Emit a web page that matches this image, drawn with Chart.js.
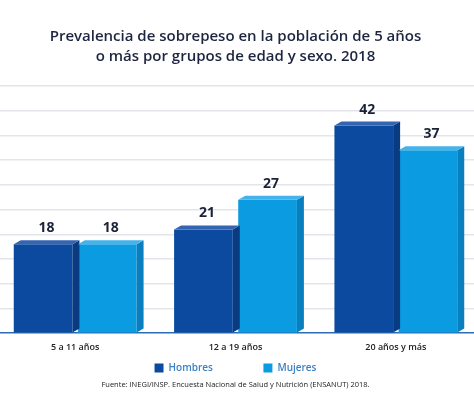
<!DOCTYPE html>
<html>
<head>
<meta charset="utf-8">
<script src="https://cdn.jsdelivr.net/npm/chart.js@4/dist/chart.umd.min.js"></script>
<style>
  html, body { margin: 0; padding: 0; background: #fff; overflow: hidden; }
  /* el área del gráfico sobresale un poco por ambos lados, como en el original */
  #wrap { width: 481px; height: 402px; position: relative; margin-left: -5px; }
</style>
</head>
<body>
<div id="wrap"><canvas id="barChart"></canvas></div>
<script>
// datos
var grupos = ['5 a 11 años', '12 a 19 años', '20 años y más'];
var hombres = [18, 21, 42];
var mujeres = [18, 27, 37];
var ejeY = [0, 50, 5]; // min, max, paso

var titulo = ['Prevalencia de sobrepeso en la población de 5 años', 'o más por grupos de edad y sexo. 2018'];
var fuente = 'Fuente: INEGI/INSP. Encuesta Nacional de Salud y Nutrición (ENSANUT) 2018.';

var FONT = "'Open Sans', 'Noto Sans', sans-serif";

// caras laterales y superior para el efecto 3D
var caras = [
    { lado: '#083b80', tapa: '#3565b0' },
    { lado: '#0a7fc0', tapa: '#45b3ea' }
];

var barras3d = {
    id: 'barras3d',
    afterDatasetsDraw: function (chart) {
        var ctx = chart.ctx;
        var dx = 7, dy = 4;
        chart.data.datasets.forEach(function (ds, i) {
            var meta = chart.getDatasetMeta(i);
            meta.data.forEach(function (bar, j) {
                var p = bar.getProps(['x', 'y', 'base', 'width'], true);
                var left = p.x - p.width / 2, right = p.x + p.width / 2;
                ctx.save();
                // lateral
                ctx.fillStyle = caras[i].lado;
                ctx.beginPath();
                ctx.moveTo(right, p.y);
                ctx.lineTo(right + dx, p.y - dy);
                ctx.lineTo(right + dx, p.base - dy);
                ctx.lineTo(right, p.base);
                ctx.closePath();
                ctx.fill();
                // tapa
                ctx.fillStyle = caras[i].tapa;
                ctx.beginPath();
                ctx.moveTo(left, p.y);
                ctx.lineTo(left + dx, p.y - dy);
                ctx.lineTo(right + dx, p.y - dy);
                ctx.lineTo(right, p.y);
                ctx.closePath();
                ctx.fill();
                // valor
                ctx.fillStyle = '#1b2238';
                ctx.font = 'bold 14px ' + FONT;
                ctx.textAlign = 'center';
                ctx.textBaseline = 'middle';
                ctx.fillText(ds.data[j], p.x + dx / 2, p.y - 16);
                ctx.restore();
            });
        });
    }
};

var ctx = document.getElementById('barChart').getContext('2d');
var myChart = new Chart(ctx, {
    type: 'bar',
    data: {
        labels: grupos,
        datasets: [{
            label: 'Hombres',
            data: hombres,
            backgroundColor: '#0b4a9e',
            borderWidth: 0
        }, {
            label: 'Mujeres',
            data: mujeres,
            backgroundColor: '#0b9be0',
            borderWidth: 0
        }]
    },
    options: {
        responsive: true,
        maintainAspectRatio: false,
        animation: false,
        layout: { padding: 0 },
        categoryPercentage: 0.8,
        barPercentage: 0.915,
        plugins: {
            title: {
                display: true,
                text: titulo,
                color: '#1d2540',
                font: { family: FONT, size: 15, weight: '600', lineHeight: 1.3 },
                padding: { top: 27, bottom: 20 }
            },
            legend: {
                position: 'bottom',
                labels: {
                    boxWidth: 9,
                    boxHeight: 9,
                    padding: 9,
                    color: '#3b80c2',
                    font: { family: FONT, size: 10, weight: '600' },
                    generateLabels: function (chart) {
                        var items = Chart.defaults.plugins.legend.labels.generateLabels(chart);
                        // separación amplia entre los dos elementos
                        if (items.length) items[0].text += '\u00a0'.repeat(16);
                        return items;
                    }
                }
            },
            subtitle: {
                display: true,
                position: 'bottom',
                text: fuente,
                color: '#222',
                font: { family: FONT, size: 7.5 },
                padding: { top: -3, bottom: 13 }
            },
            tooltip: { enabled: false }
        },
        scales: {
            x: {
                grid: { display: false },
                border: { display: false },
                ticks: {
                    color: '#222',
                    padding: 1,
                    font: { family: FONT, size: 9, weight: '600' }
                }
            },
            y: {
                min: ejeY[0],
                max: ejeY[1],
                border: { display: false },
                grid: {
                    drawTicks: false,
                    color: function (c) { return c.tick && c.tick.value === 0 ? '#2c6db5' : '#e2e5e9'; },
                    lineWidth: 1.5
                },
                ticks: { display: false, padding: 0, stepSize: ejeY[2] }
            }
        }
    },
    plugins: [barras3d]
});
</script>
</body>
</html>
